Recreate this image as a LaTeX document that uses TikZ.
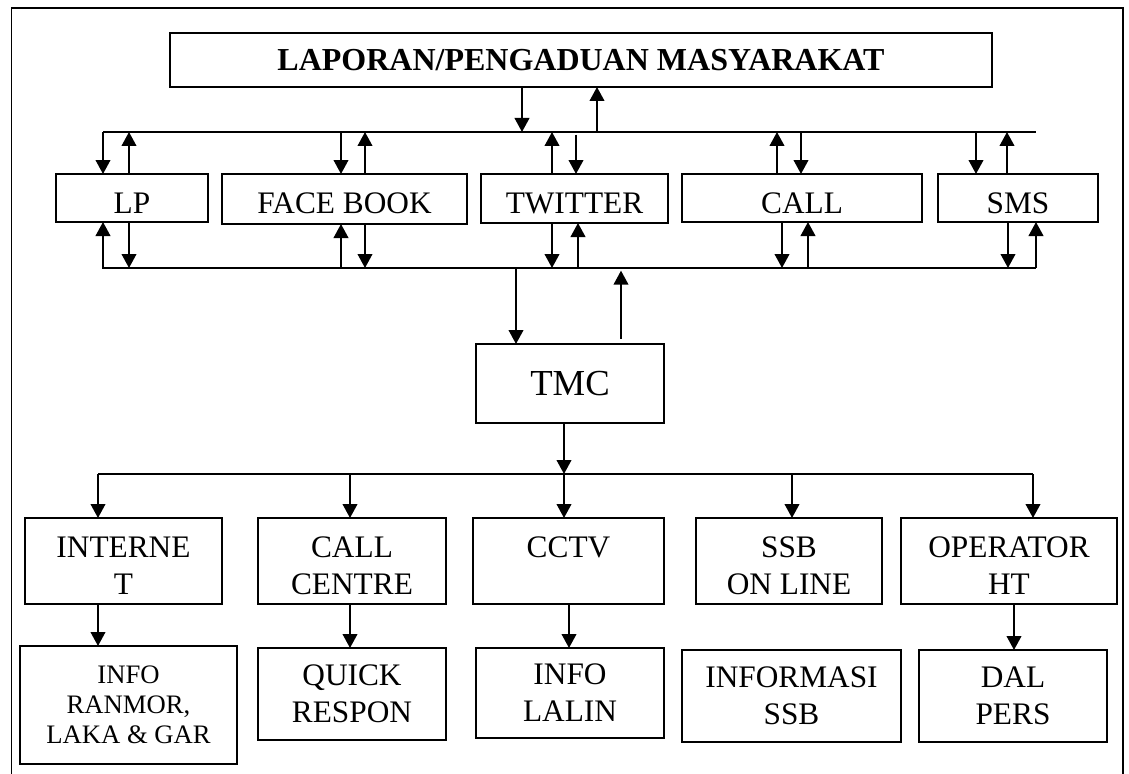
\documentclass[tikz,border=0pt]{standalone}
\usepackage{fontspec}
\setmainfont{Liberation Serif}
\usetikzlibrary{arrows.meta}
\newcommand\bx[6][]{\node[box,#1,minimum width={(#5-#3)*0.75pt},minimum height={(#6-#4)*0.75pt}] (#2) at ({(#3+#5)/2},{(#4+#6)/2})}
\newcommand\up{\rule{0pt}{23pt}}
\tikzset{
  box/.style={draw, line width=1.1pt, inner sep=0pt, outer sep=0pt, align=center},
  rowone/.style={font=\fontsize{23.5}{27}\selectfont, text height=22.5pt, text depth=0pt},
  rowtwo/.style={font=\fontsize{23.5}{27.75}\selectfont},
  small/.style={font=\fontsize{20}{22.5}\selectfont},
  arr/.style={line width=1.4pt, -{Triangle[length=10.5pt,width=11pt]}},
  bus/.style={line width=1.1pt},
  frame/.style={line width=1.2pt}
}
\begin{document}
\begin{tikzpicture}[x=0.75pt,y=-0.75pt]
\useasboundingbox (0,0) rectangle (1129,774);
\draw[frame] (11.5,774) -- (11.5,8) -- (1123,8) -- (1123,774);

% title
\bx[font=\fontsize{24}{28}\selectfont\bfseries]{title}{170}{33}{992}{87}{LAPORAN/PENGADUAN MASYARAKAT};

% buses
\coordinate (tbL) at (103,132); \coordinate (tbR) at (1036,132);
\coordinate (bbL) at (102,268); \coordinate (bbR) at (1036,268);
\coordinate (lbL) at (98,474);  \coordinate (lbR) at (1033,474);
\draw[bus] (tbL) -- (tbR);
\draw[bus] (bbL) -- (bbR);
\draw[bus] (lbL) -- (lbR);

% row 1
\bx[rowone]{lp}{56}{174}{208}{222}{LP};
\bx[rowone]{fb}{222}{174}{467}{224}{FACE BOOK};
\bx[rowone]{tw}{481}{174}{668}{223}{TWITTER};
\bx[rowone]{call}{682}{174}{922}{222}{CALL};
\bx[rowone]{sms}{938}{174}{1098}{222}{SMS};

% TMC
\bx[font=\fontsize{27.5}{33}\selectfont]{tmc}{476}{344}{664}{423}{TMC};

% row 2
\bx[rowtwo]{inet}{25}{518}{222}{604}{\up INTERNE\\T};
\bx[rowtwo]{cc}{258}{518}{446}{604}{\up CALL\\CENTRE};
\bx[rowtwo]{cctv}{473}{518}{664}{604}{\up CCTV\\\mbox{}};
\bx[rowtwo]{ssb}{696}{518}{882}{604}{\up SSB\\ON LINE};
\bx[rowtwo]{op}{901}{518}{1117}{604}{\up OPERATOR\\HT};

% row 3
\bx[small]{info}{20}{646}{237}{764}{INFO\\RANMOR,\\LAKA \& GAR};
\bx[rowtwo]{qr}{258}{648}{446}{740}{QUICK\\RESPON};
\bx[rowtwo]{lalin}{476}{648}{664}{738}{INFO\\LALIN};
\bx[rowtwo]{infssb}{682}{650}{901}{742}{INFORMASI\\SSB};
\bx[rowtwo]{dal}{919}{650}{1107}{742}{DAL\\PERS};

% title <-> top bus
\draw[arr] (title.south -| 522,0) -- (522,0 |- tbL);
\draw[arr] (597,0 |- tbL) -- (title.south -| 597,0);

% top bus <-> row 1
\draw[arr] (103,0 |- tbL) -- (lp.north -| 103,0);
\draw[arr] (lp.north -| 129,0) -- (129,0 |- tbL);
\draw[arr] (341,0 |- tbL) -- (fb.north -| 341,0);
\draw[arr] (fb.north -| 365,0) -- (365,0 |- tbL);
\draw[arr] (tw.north -| 552,0) -- (552,0 |- tbL);
\draw[arr, shorten <=2pt] (576,0 |- tbL) -- (tw.north -| 576,0);
\draw[arr] (call.north -| 777,0) -- (777,0 |- tbL);
\draw[arr] (801,0 |- tbL) -- (call.north -| 801,0);
\draw[arr] (976,0 |- tbL) -- (sms.north -| 976,0);
\draw[arr] (sms.north -| 1007,0) -- (1007,0 |- tbL);

% row 1 <-> bottom bus
\draw[arr] (103,0 |- bbL) -- (lp.south -| 103,0);
\draw[arr] (lp.south -| 129,0) -- (129,0 |- bbL);
\draw[arr] (341,0 |- bbL) -- (fb.south -| 341,0);
\draw[arr] (fb.south -| 365,0) -- (365,0 |- bbL);
\draw[arr] (tw.south -| 552,0) -- (552,0 |- bbL);
\draw[arr] (578,0 |- bbL) -- (tw.south -| 578,0);
\draw[arr] (call.south -| 782,0) -- (782,0 |- bbL);
\draw[arr] (808,0 |- bbL) -- (call.south -| 808,0);
\draw[arr] (sms.south -| 1008,0) -- (1008,0 |- bbL);
\draw[arr] (1036,0 |- bbL) -- (sms.south -| 1036,0);

% bottom bus <-> TMC
\draw[arr] (516,0 |- bbL) -- (tmc.north -| 516,0);
\draw[arr, shorten <=4pt, shorten >=2pt] (tmc.north -| 621,0) -- (621,0 |- bbL);

% TMC -> lower bus
\draw[arr] (tmc.south -| 564,0) -- (564,0 |- lbL);

% lower bus -> row 2
\draw[arr] (98,0 |- lbL) -- (inet.north -| 98,0);
\draw[arr] (350,0 |- lbL) -- (cc.north -| 350,0);
\draw[arr] (564,0 |- lbL) -- (cctv.north -| 564,0);
\draw[arr] (792,0 |- lbL) -- (ssb.north -| 792,0);
\draw[arr] (1033,0 |- lbL) -- (op.north -| 1033,0);

% row 2 -> row 3
\draw[arr] (inet.south -| 98,0) -- (info.north -| 98,0);
\draw[arr] (cc.south -| 350,0) -- (qr.north -| 350,0);
\draw[arr] (cctv.south -| 569,0) -- (lalin.north -| 569,0);
\draw[arr] (op.south -| 1014,0) -- (dal.north -| 1014,0);
\end{tikzpicture}
\end{document}
